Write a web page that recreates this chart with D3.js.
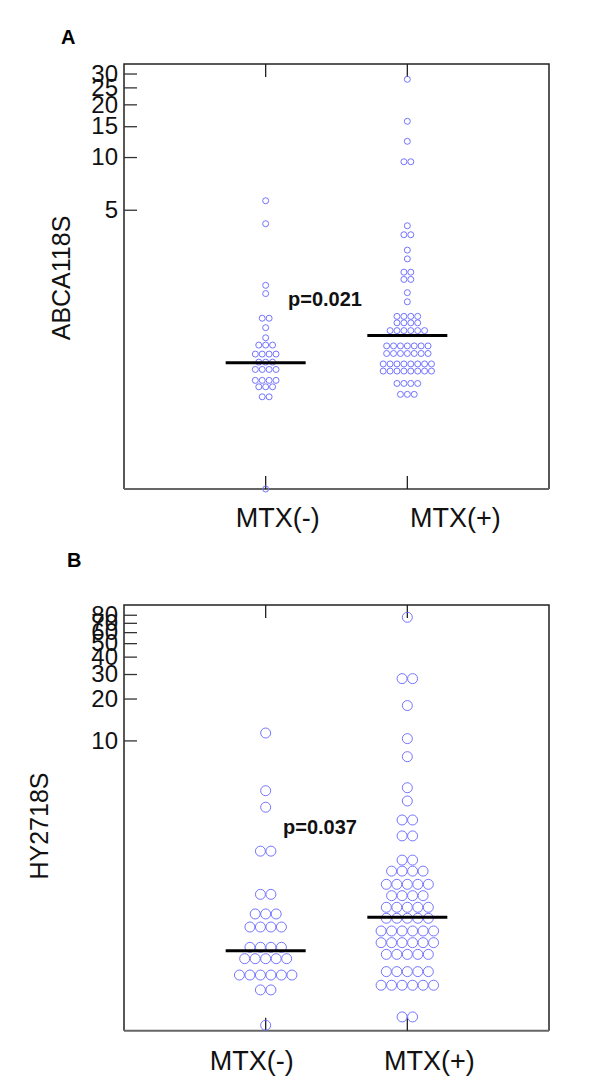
<!DOCTYPE html>
<html lang="en">
<head>
<meta charset="utf-8">
<script src="https://cdn.jsdelivr.net/npm/d3@7"></script>
<style>
  body { margin: 0; background: #fff; }
  text { font-family: "Liberation Sans", Arial, sans-serif; }
</style>
</head>
<body>
<script>
// categories and tick labels
var cats = ["MTX(-)", "MTX(+)"];
var ticksA = [5, 10, 15, 20, 25, 30];
var ticksB = [10, 20, 30, 40, 50, 60, 70, 80];

// ABCA118S values
var abcaMinus = [5.63, 4.16, 1.85, 1.66, 1.20, 1.20, 1.06, 0.928,
  0.843, 0.843, 0.843, 0.749, 0.749, 0.749, 0.749, 0.674, 0.674, 0.674,
  0.612, 0.612, 0.612, 0.612, 0.530, 0.530, 0.530, 0.530,
  0.487, 0.487, 0.487, 0.427, 0.427, 0.127];
var abcaPlus = [27.8, 16.0, 12.3, 9.40, 9.40, 4.05, 3.60, 3.60, 2.94, 2.62,
  2.20, 2.20, 2.00, 2.00, 1.68, 1.49, 1.23, 1.23, 1.23, 1.23,
  1.13, 1.13, 1.13, 1.13, 1.02, 1.02, 1.02, 1.02, 1.02, 1.02,
  0.834, 0.834, 0.834, 0.834, 0.834, 0.834, 0.834,
  0.755, 0.755, 0.755, 0.755, 0.755, 0.755, 0.755,
  0.658, 0.658, 0.658, 0.658, 0.658, 0.658, 0.658, 0.658,
  0.599, 0.599, 0.599, 0.599, 0.599, 0.599, 0.599, 0.599,
  0.509, 0.509, 0.509, 0.509, 0.441, 0.441, 0.441];
var medianA = [0.668, 0.955];

// HY2718S values
var hyMinus = [11.3, 4.35, 3.31, 1.60, 1.60, 0.783, 0.783,
  0.566, 0.566, 0.566, 0.456, 0.456, 0.456, 0.456,
  0.326, 0.326, 0.326, 0.326, 0.270, 0.270, 0.270, 0.270, 0.270,
  0.206, 0.206, 0.206, 0.206, 0.206, 0.206, 0.161, 0.161, 0.0897];
var hyPlus = [76.7, 27.8, 27.8, 17.8, 10.3, 7.64, 4.57, 3.67, 2.68, 2.68,
  2.06, 2.06, 1.38, 1.38, 1.15, 1.15, 1.15, 1.15,
  0.924, 0.924, 0.924, 0.924, 0.924, 0.766, 0.766, 0.766, 0.766,
  0.632, 0.632, 0.632, 0.632, 0.632, 0.527, 0.527, 0.527, 0.527, 0.527,
  0.427, 0.427, 0.427, 0.427, 0.427, 0.427, 0.352, 0.352, 0.352, 0.352, 0.352, 0.352,
  0.290, 0.290, 0.290, 0.290, 0.290, 0.218, 0.218, 0.218, 0.218, 0.218,
  0.174, 0.174, 0.174, 0.174, 0.174, 0.174, 0.103, 0.103];
var medianB = [0.308, 0.535];

var w = 600, h = 1085;
var left = 124, right = 549;

var panels = [
  { letter: "A", lx: 61, ly: 44, top: 64, bottom: 489, title: "ABCA118S", tx: 70, ty: 278,
    domain: [0.127, 34], ticks: ticksA, groups: [abcaMinus, abcaPlus], medians: medianA,
    r: 3, gap: 6.9, p: "p=0.021", px: 288, py: 306, labelDx: [12, 48], labelY: 527 },
  { letter: "B", lx: 67, ly: 567, top: 605, bottom: 1030.7, title: "HY2718S", tx: 48, ty: 826,
    domain: [0.082, 94], ticks: ticksB, groups: [hyMinus, hyPlus], medians: medianB,
    r: 5, gap: 10.5, p: "p=0.037", px: 283, py: 834, labelDx: [-14, 22], labelY: 1070 }
];

var svg = d3.select("body").append("svg")
  .attr("width", w)
  .attr("height", h);

var xScale = d3.scalePoint()
  .domain(cats)
  .range([left, right])
  .padding(1);

panels.forEach(function(pn) {
  var g = svg.append("g");

  var yScale = d3.scaleLog()
    .domain(pn.domain)
    .range([pn.bottom, pn.top]);

  // panel letter
  g.append("text")
    .attr("x", pn.lx)
    .attr("y", pn.ly)
    .attr("font-size", "20px")
    .attr("font-weight", "bold")
    .text(pn.letter);

  // frame
  g.append("path")
    .attr("d", "M" + left + "," + pn.bottom + "V" + pn.top + "H" + right + "V" + pn.bottom)
    .attr("fill", "none")
    .attr("stroke", "#222")
    .attr("stroke-width", 1.5);
  g.append("line")
    .attr("x1", left).attr("x2", right)
    .attr("y1", pn.bottom).attr("y2", pn.bottom)
    .attr("stroke", "#666")
    .attr("stroke-width", 2);

  // y axis, ticks pointing inward
  var yAxis = d3.axisLeft(yScale)
    .tickValues(pn.ticks)
    .tickFormat(d3.format("d"))
    .tickSizeInner(-13)
    .tickSizeOuter(0)
    .tickPadding(6);

  var ya = g.append("g")
    .attr("transform", "translate(" + left + ",0)")
    .call(yAxis);
  ya.select(".domain").remove();
  ya.selectAll(".tick line").attr("stroke", "#333").attr("stroke-width", 1.3);
  ya.selectAll(".tick text")
    .attr("font-family", "Liberation Sans, Arial, sans-serif")
    .attr("font-size", "24px")
    .attr("fill", "#111");

  // category ticks, bottom and top
  cats.forEach(function(c) {
    g.append("line")
      .attr("x1", xScale(c)).attr("x2", xScale(c))
      .attr("y1", pn.bottom).attr("y2", pn.bottom - 13)
      .attr("stroke", "#222").attr("stroke-width", 1.3);
    g.append("line")
      .attr("x1", xScale(c)).attr("x2", xScale(c))
      .attr("y1", pn.top).attr("y2", pn.top + 13)
      .attr("stroke", "#222").attr("stroke-width", 1.3);
  });

  // category labels
  g.selectAll(".cat")
    .data(cats)
    .enter()
    .append("text")
    .attr("class", "cat")
    .attr("x", function(d, i) { return xScale(d) + pn.labelDx[i]; })
    .attr("y", pn.labelY)
    .attr("text-anchor", "middle")
    .attr("font-size", "27px")
    .attr("fill", "#111")
    .text(function(d) { return d; });

  // y title
  g.append("text")
    .attr("transform", "translate(" + pn.tx + "," + pn.ty + ") rotate(-90)")
    .attr("text-anchor", "middle")
    .attr("font-size", "25px")
    .attr("fill", "#111")
    .text(pn.title);

  // dots, rows of equal values spread sideways
  pn.groups.forEach(function(vals, gi) {
    var rows = d3.groups(vals, function(v) { return v; });
    var pts = [];
    rows.forEach(function(row) {
      var n = row[1].length;
      row[1].forEach(function(v, i) {
        pts.push({ v: v, off: (i - (n - 1) / 2) * pn.gap });
      });
    });

    g.selectAll(".dot" + gi)
      .data(pts)
      .enter()
      .append("circle")
      .attr("cx", function(d) { return xScale(cats[gi]) + d.off; })
      .attr("cy", function(d) { return yScale(d.v); })
      .attr("r", pn.r)
      .attr("fill", "none")
      .attr("stroke", "#7474ff")
      .attr("stroke-width", 1);

    // median bar
    g.append("line")
      .attr("x1", xScale(cats[gi]) - 40)
      .attr("x2", xScale(cats[gi]) + 40)
      .attr("y1", yScale(pn.medians[gi]))
      .attr("y2", yScale(pn.medians[gi]))
      .attr("stroke", "#000")
      .attr("stroke-width", 3);
  });

  // p value
  g.append("text")
    .attr("x", pn.px)
    .attr("y", pn.py)
    .attr("font-size", "20px")
    .attr("font-weight", "bold")
    .attr("fill", "#111")
    .text(pn.p);
});
</script>
</body>
</html>
